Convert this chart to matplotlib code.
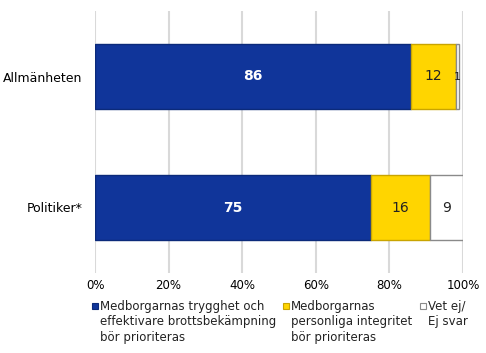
import matplotlib.pyplot as plt
from matplotlib.patches import Rectangle
from matplotlib.ticker import PercentFormatter

groups = ['Allmänheten', 'Politiker*']
trygghet = [86, 75]
integritet = [12, 16]
vet_ej = [1, 9]

series = [
    (trygghet, '#10359a', '#0b2a7a', 'white', 'bold',
     'Medborgarnas trygghet och\neffektivare brottsbekämpning\nbör prioriteras'),
    (integritet, '#ffd500', '#c9a400', '#222222', 'normal',
     'Medborgarnas\npersonliga integritet\nbör prioriteras'),
    (vet_ej, 'white', '#8a8a8a', '#222222', 'normal',
     'Vet ej/\nEj svar'),
]
# legend column positions (pixels from left)
legend_x = [92, 283, 420]

W, H = 486, 353
fig = plt.figure(figsize=(W / 100, H / 100), dpi=100)
ax = fig.add_axes([95 / W, 1 - 273 / H, 368 / W, 262 / H])

y = list(range(len(groups)))
left = [0] * len(groups)
for (vals, col, edge, tcol, weight, label), lx in zip(series, legend_x):
    bars = ax.barh(y, vals, left=left, height=0.49, color=col,
                   edgecolor=edge, linewidth=1.0, zorder=3)
    for b, v in zip(bars, vals):
        size = 10 if v > 2 else 8
        ax.text(b.get_x() + b.get_width() / 2, b.get_y() + b.get_height() / 2,
                str(v), ha='center', va='center', color=tcol,
                fontsize=size, fontweight=weight, zorder=4)
    left = [l + v for l, v in zip(left, vals)]

    # legend entry: small square + wrapped text
    sq = 6
    fig.patches.append(Rectangle((lx / W, 1 - (303 + sq) / H), sq / W, sq / H,
                                 transform=fig.transFigure, facecolor=col,
                                 edgecolor=edge, linewidth=0.8))
    fig.text((lx + 8) / W, 1 - 300 / H, label, ha='left', va='top',
             fontsize=8.5, linespacing=1.25, color='#222222')

ax.set_xlim(0, 100)
ax.set_ylim(1.5, -0.5)
ax.set_xticks(range(0, 101, 20))
ax.xaxis.set_major_formatter(PercentFormatter(decimals=0))
ax.set_yticks(y)
ax.set_yticklabels(groups, fontsize=9)
ax.tick_params(axis='x', labelsize=8.5, length=0, pad=4)
ax.tick_params(axis='y', length=0, pad=9)
ax.grid(axis='x', color='#d9d9d9', linewidth=1.5, zorder=0)
for s in ax.spines.values():
    s.set_visible(False)

fig.savefig('out.png', dpi=100)
